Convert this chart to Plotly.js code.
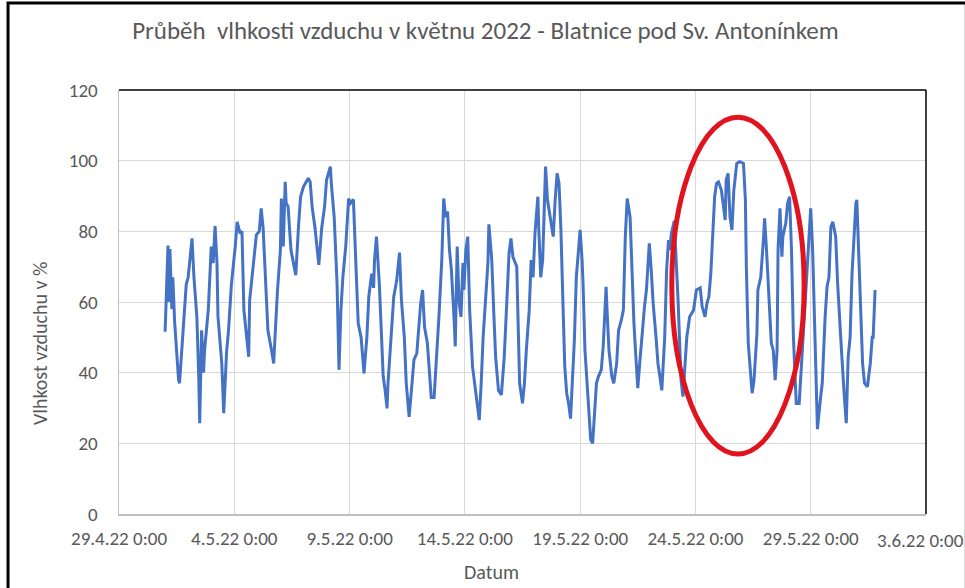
<!DOCTYPE html>
<html>
<head>
<meta charset="utf-8">
<script src="https://cdn.plot.ly/plotly-3.0.1.min.js"></script>
<style>html,body{margin:0;padding:0;background:#fff;}#chart{width:965px;height:588px;}</style>
</head>
<body>
<div id="chart"></div>
<script>
// Hours since 1.5.2022 0:00 for each read-off point
const hours = [
 0,3,4,5,7,8,10,12,14,15,17,19,22,24,26,28,30,33,35,36,38,40,41,45,48,50,52,54,55,59,
 61,62,64,66,69,73,75,78,80,82,85,87,88,92,95,98,100,102,105,107,111,113,114,117,120,121,123,125,126,128,
 131,133,136,139,141,144,146,149,151,153,156,158,160,163,166,168,172,173,176,179,181,
 183,185,188,191,193,196,198,201,204,207,210,212,215,217,218,220,223,225,227,229,
 231,232,235,238,241,244,246,249,251,254,257,259,262,264,266,268,270,273,275,277,
 280,283,285,288,290,292,294,296,298,301,302,304,306,308,310,311,313,315,317,320,
 322,325,327,329,331,334,336,337,340,342,344,347,350,353,355,358,360,362,
 366,368,369,372,374,376,379,381,383,385,388,389,391,393,395,396,398,400,402,404,
 406,408,410,412,414,416,418,420,422,424,426,428,430,432,434,435,437,439,441,443,
 445,447,449,451,454,456,459,460,462,465,467,470,472,475,477,479,481,484,486,488,
 490,492,494,496,499,501,503,504,506,508,511,513,515,517,520,522,524,525,527,530,
 534,537,539,543,546,550,553,557,559,562,564,566,568,570,572,574,576,579,581,583,
 584,586,588,590,592,595,598,602,604,605,607,609,611,613,616,617,620,623,624,626,
 629,631,633,635,637,638,640,642,643,646,648,650,652,654,656,657,660,662,664,667,
 669,672,674,676,677,679,682,684,687,689,691,693,695,698,700,702,704,707,709,711,
 713,715,717,719,720,722,724,726,728,731,734,736,737,739
];
// Relative humidity in %
const humidity = [
 51.6,76,60,75,58,67,54,45,38,37,45,54,65,67,73,78,67,56,39,25.7,52,40,46,58,75.7,71,81.5,71,56,42.6,
 28.5,35,46,52,65,75.7,82.7,79.4,80,57.7,50,44.5,60.5,71,79,80,86.5,81,65,52,46,42.6,48,63.4,74.7,89.3,75.7,94,88,87,
 74.7,72,67.6,82,89.8,92.6,93.6,95,94,87,81,74.7,70.5,81,87,94.5,98.3,93.6,84,65,40.8,
 57.7,67,75.7,89.3,88,89,74.7,54,50,39.8,50,61.5,68,64,72,78.5,65,54,38.9,35,
 29.9,37,50,61.5,66,74,60.5,50,37,27.5,37,43.6,45.5,54,59.6,63.4,53,48.3,38.9,33,
 33,45.5,55.8,72,89.3,84,85.6,74.7,69,54,47.4,75.7,60,55.8,71,63.4,74.7,78.5,57.7,41.7,
 37,31.3,26.6,37,50,62.5,71,82,72,57.7,44.5,35,33.7,44.5,57.7,73.8,78,72.8,
 70,51,37,31.3,37,46.4,57.7,71.9,67,79.4,89.8,80.4,67,72,88.9,98.3,88.9,85,81.3,78.5,
 88.9,96.4,93.6,80.4,60.6,41.7,34.2,31.3,27,37,49.2,67,74.7,80.4,72,65.3,46.4,37,27.5,21,
 20,28.5,37,38.9,40.8,47.4,64.3,57.7,46.4,38.9,37,42.6,52,55,57.7,78.5,89.3,84,67,54,
 44.5,35.6,42.6,50,58.7,63.4,72,76.6,69,59.6,50,42.6,38.9,35,50,69,77.5,74.7,79.4,83,
 60,38,33.2,50,55.8,57.7,63.4,64,58.7,55.8,59.6,61.5,68,79.4,89.8,93.6,94,91.7,87.9,83.2,
 94.5,96.4,84,80.4,91.7,99.2,99.7,99.2,88.9,70,48.3,41.7,34.2,37.9,51,63.4,67,78.5,83.7,74.7,
 60.6,48.3,46.4,37.9,46.4,74.7,86.5,72.8,78.5,82.3,88,89.8,74.7,50,37,31.3,31.3,40.8,48.3,63.4,
 71,86.5,74.7,55.8,46.4,24,32.3,37,55.8,64.3,67,81.3,82.7,78.5,65.3,54,46.4,33.2,25.7,44.5,
 50,68,78.5,87.9,88.9,74.7,55.8,42.6,37,36,42.6,50,50,63.4
];
const tickDates = ['2022-04-29','2022-05-04','2022-05-09','2022-05-14','2022-05-19','2022-05-24','2022-05-29','2022-06-03'];
const tickLabels = ['29.4.22 0:00','4.5.22 0:00','9.5.22 0:00','14.5.22 0:00','19.5.22 0:00','24.5.22 0:00','29.5.22 0:00','3.6.22 0:00'];
const yTicks = [0,20,40,60,80,100,120];

const start = Date.UTC(2022,4,1,0,0,0);
const xDates = hours.map(h => new Date(start + h*3600000).toISOString().slice(0,19).replace('T',' '));

const FONT = 'Carlito, Calibri, "Liberation Sans", Arial, sans-serif';
const GREY = '#595959';

// the last label is pushed inward (as the original chart does) so it stays inside the picture
const axisTickText = tickLabels.map((t, i) => i === tickLabels.length - 1 ? '' : t);

const trace = {
  x: xDates, y: humidity, type: 'scatter', mode: 'lines',
  line: {color: '#4472C4', width: 3}, hoverinfo: 'x+y'
};

const layout = {
  width: 965, height: 588,
  margin: {l: 119, r: 39, t: 90, b: 74},
  paper_bgcolor: '#ffffff', plot_bgcolor: '#ffffff',
  showlegend: false,
  font: {family: FONT, color: GREY, size: 19},
  title: {text: 'Průběh  vlhkosti vzduchu v květnu 2022 - Blatnice pod Sv. Antonínkem',
          font: {family: FONT, size: 25, color: GREY}, x: 0.503, xanchor: 'center', y: 0.948, yanchor: 'middle'},
  xaxis: {
    type: 'date', range: ['2022-04-29', '2022-06-03'],
    tickmode: 'array', tickvals: tickDates, ticktext: axisTickText,
    showgrid: true, gridcolor: '#d9d9d9', gridwidth: 1,
    showline: true, linecolor: '#bfbfbf', linewidth: 1.5,
    ticks: '', ticklabelstandoff: 7,
    tickfont: {family: FONT, size: 19, color: GREY},
    zeroline: false
  },
  yaxis: {
    range: [0, 120], tickmode: 'array', tickvals: yTicks,
    showgrid: true, gridcolor: '#d9d9d9', gridwidth: 1,
    showline: true, linecolor: '#bfbfbf', linewidth: 1.5,
    ticks: '', ticklabelstandoff: 16,
    tickfont: {family: FONT, size: 19, color: GREY},
    zeroline: false
  },
  annotations: [
    {text: tickLabels[tickLabels.length - 1], xref: 'paper', yref: 'paper', x: 1.0495, y: -0.0615,
     xanchor: 'right', yanchor: 'middle', showarrow: false, font: {family: FONT, size: 19, color: GREY}},
    {text: 'Datum', xref: 'paper', yref: 'paper', x: 0.461, y: -0.137, xanchor: 'center', yanchor: 'middle',
     showarrow: false, font: {family: FONT, size: 20, color: GREY}},
    {text: 'Vlhkost vzduchu v %', xref: 'paper', yref: 'paper', x: -0.098, y: 0.403, xanchor: 'center', yanchor: 'middle',
     textangle: -90, showarrow: false, font: {family: FONT, size: 20, color: GREY}}
  ],
  shapes: [
    // plot-area top and right borders (dark)
    {type: 'line', xref: 'paper', yref: 'paper', x0: 0, x1: 1, y0: 1, y1: 1, line: {color: '#000', width: 1.5}},
    {type: 'line', xref: 'paper', yref: 'paper', x0: 1, x1: 1, y0: 0, y1: 1, line: {color: '#000', width: 1.5}},
    // outer frame of the picture
    {type: 'rect', xref: 'paper', yref: 'paper', x0: -0.1375, x1: 1.05, y0: -0.25, y1: 1.205, line: {color: '#000', width: 3}},
    // red highlight ellipse
    {type: 'circle', xref: 'paper', yref: 'paper', x0: 0.685, x1: 0.849, y0: 0.1415, y1: 0.936,
     line: {color: '#e0141e', width: 5}}
  ]
};

Plotly.newPlot('chart', [trace], layout, {displayModeBar: false, staticPlot: true});
</script>
</body>
</html>
